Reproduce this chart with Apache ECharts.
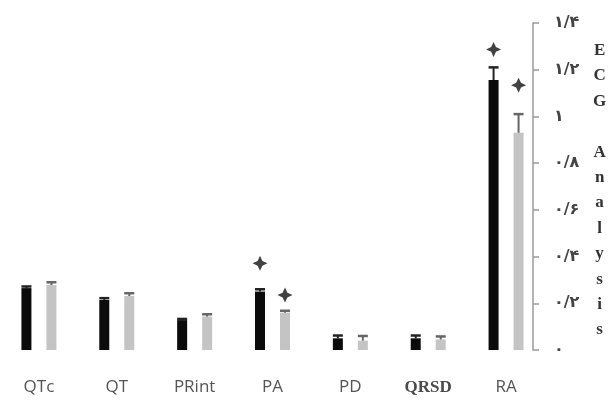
<!DOCTYPE html>
<html>
<head>
<meta charset="utf-8">
<script src="https://cdn.jsdelivr.net/npm/echarts@6/dist/echarts.min.js"></script>
<style>html,body{margin:0;padding:0;background:#fff}#c{width:608px;height:400px}</style>
</head>
<body>
<div id="c"></div>
<script>
var categories = ['QTc', 'QT', 'PRint', 'PA', 'PD', 'QRSD', 'RA'];
var blackValues = [0.265, 0.214, 0.128, 0.25, 0.05, 0.05, 1.156];
var blackErrTop = [0.272, 0.222, 0.133, 0.26, 0.062, 0.062, 1.21];
var grayValues = [0.278, 0.231, 0.143, 0.16, 0.04, 0.045, 0.93];
var grayErrTop = [0.29, 0.243, 0.153, 0.168, 0.06, 0.058, 1.01];
var blackStars = [null, null, null, 0.371, null, null, 1.287];
var grayStars = [null, null, null, 0.235, null, null, 1.134];
var yTickValues = [0, 0.2, 0.4, 0.6, 0.8, 1, 1.2, 1.4];
var yTickLabels = ['۰', '۰/۲', '۰/۴', '۰/۶', '۰/۸', '۱', '۱/۲', '۱/۴'];
var sideTitle = ['E', 'C', 'G', '', 'A', 'n', 'a', 'l', 'y', 's', 'i', 's'];

var OFF = 12.5;
var starPath = 'path://M0,-10 L3.2,-3.2 L10,0 L3.2,3.2 L0,10 L-3.2,3.2 L-10,0 L-3.2,-3.2 Z';

function errSeries(vals, tops, offset, color) {
  var data = vals.map(function (v, i) { return [i, v, tops[i]]; });
  return {
    type: 'custom',
    data: data,
    z: 5,
    renderItem: function (params, api) {
      var p0 = api.coord([api.value(0), api.value(1)]);
      var p1 = api.coord([api.value(0), api.value(2)]);
      var x = p0[0] + offset;
      return {
        type: 'group',
        children: [
          { type: 'line', shape: { x1: x, y1: p0[1], x2: x, y2: p1[1] }, style: { stroke: color, lineWidth: 2 } },
          { type: 'line', shape: { x1: x - 5, y1: p1[1], x2: x + 5, y2: p1[1] }, style: { stroke: color, lineWidth: 2.5 } }
        ]
      };
    }
  };
}

var chart = echarts.init(document.getElementById('c'), null, { renderer: 'canvas' });
chart.setOption({
  animation: false,
  backgroundColor: '#ffffff',
  grid: { left: -6, right: 63, top: 23, bottom: 50, containLabel: false },
  xAxis: {
    type: 'category',
    data: categories,
    axisLine: { show: false },
    axisTick: { show: false },
    axisLabel: {
      interval: 0,
      margin: 29,
      fontFamily: 'Open Sans',
      fontSize: 17,
      color: '#555',
      formatter: function (v) { return v === 'QRSD' ? '{s|' + v + '}' : v; },
      rich: { s: { fontFamily: 'Liberation Serif', fontWeight: 'bold', fontSize: 17, color: '#4a4a4a' } }
    }
  },
  yAxis: {
    type: 'value',
    position: 'right',
    offset: -12,
    min: 0,
    max: 1.4,
    interval: 0.2,
    splitLine: { show: false },
    axisLine: { show: true, lineStyle: { color: '#9a9a9a', width: 1.5 } },
    axisTick: { show: true, inside: false, length: 6, lineStyle: { color: '#9a9a9a', width: 1.5 } },
    axisLabel: {
      margin: 21,
      align: 'left',
      fontFamily: 'DejaVu Sans',
      fontWeight: 'bold',
      fontSize: 16,
      color: '#444',
      formatter: function (v) {
        for (var i = 0; i < yTickValues.length; i++) {
          if (Math.abs(yTickValues[i] - v) < 1e-6) return yTickLabels[i];
        }
        return '';
      }
    }
  },
  graphic: [{
    type: 'text',
    left: 593,
    top: 38,
    style: {
      text: sideTitle.join('\n'),
      font: 'bold 17px "Liberation Serif"',
      lineHeight: 25.4,
      fill: '#333',
      textAlign: 'center'
    }
  }],
  series: [
    { type: 'bar', data: blackValues, barWidth: 10, barGap: '150%', itemStyle: { color: '#0b0b0b' } },
    { type: 'bar', data: grayValues, barWidth: 10, barGap: '150%', itemStyle: { color: '#c4c4c4' } },
    errSeries(blackValues, blackErrTop, -OFF, '#222'),
    errSeries(grayValues, grayErrTop, OFF, '#666'),
    { type: 'scatter', data: blackStars, symbol: starPath, symbolSize: 15, symbolOffset: [-OFF, 0], itemStyle: { color: '#111' }, z: 6 },
    { type: 'scatter', data: grayStars, symbol: starPath, symbolSize: 15, symbolOffset: [OFF, 0], itemStyle: { color: '#111' }, z: 6 }
  ]
});
</script>
</body>
</html>
